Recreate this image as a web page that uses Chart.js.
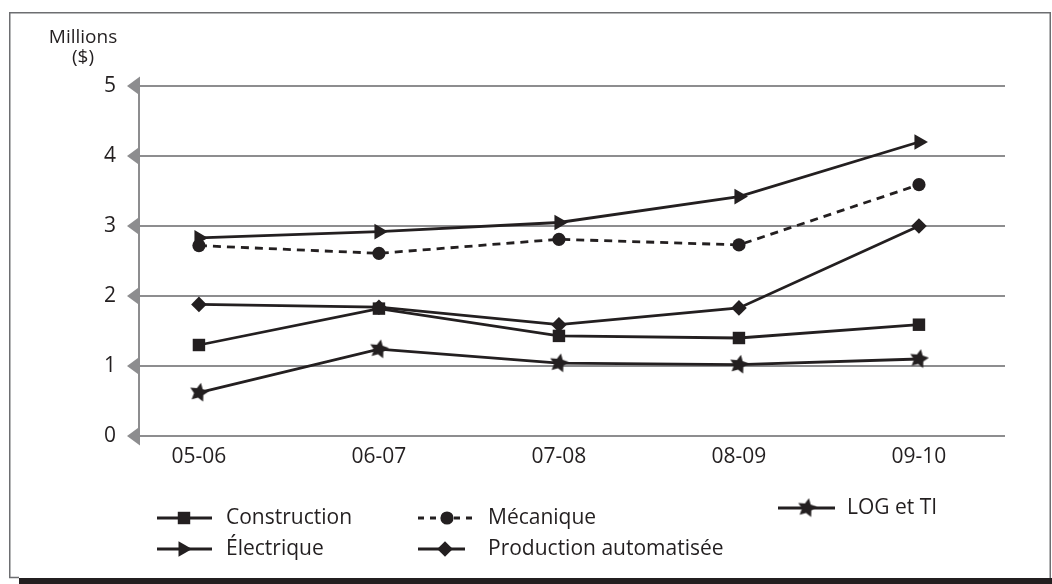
<!DOCTYPE html>
<html lang="fr">
<head>
<meta charset="utf-8">
<title>Millions ($) par secteur</title>
<script src="https://cdn.jsdelivr.net/npm/chart.js@4/dist/chart.umd.min.js"></script>
<style>
  html, body { margin: 0; padding: 0; background: #fff; }
  #wrap { position: relative; width: 1052px; height: 584px; }
</style>
</head>
<body>
<div id="wrap"><canvas id="c" width="1052" height="584"></canvas></div>
<script>
// Years (fiscal periods) on the horizontal axis
const categories = ['05-06', '06-07', '07-08', '08-09', '09-10'];

// Amounts in millions of dollars per sector
const construction = [1.30, 1.82, 1.43, 1.40, 1.59];
const mecanique    = [2.72, 2.61, 2.81, 2.73, 3.59];
const electrique   = [2.83, 2.92, 3.05, 3.42, 4.20];
const production   = [1.88, 1.84, 1.59, 1.83, 3.00];
const logTi        = [0.62, 1.24, 1.04, 1.02, 1.10];

// Vertical axis ticks
const yTicks = [0, 1, 2, 3, 4, 5];

const INK = '#231f20';
const GRID = '#8d8d8f';
const FONT = "'Open Sans', 'Noto Sans', sans-serif";
const FONT_SIZE = 21;

// Filled five-point star used as a point marker
function makeStar(size) {
  const cv = document.createElement('canvas');
  cv.width = size; cv.height = size;
  const g = cv.getContext('2d');
  const cx = size / 2, cy = size / 2, ro = size / 2 - 0.5, ri = ro * 0.5;
  g.beginPath();
  for (let i = 0; i < 10; i++) {
    const r = i % 2 === 0 ? ro : ri;
    const a = -Math.PI / 2 + 0.2 + i * Math.PI / 5;
    const px = cx + r * Math.cos(a), py = cy + r * Math.sin(a);
    if (i === 0) g.moveTo(px, py); else g.lineTo(px, py);
  }
  g.closePath();
  g.fillStyle = INK;
  g.fill();
  return cv;
}
const starImg = makeStar(21);

const toPoints = arr => arr.map((v, i) => ({ x: i, y: v }));

const series = [
  { label: 'Construction', values: construction, pointStyle: 'rect', radius: 8.8, rotation: 0, dash: [] },
  { label: 'Mécanique', values: mecanique, pointStyle: 'circle', radius: 6.6, rotation: 0, dash: [8, 6] },
  { label: 'Électrique', values: electrique, pointStyle: 'triangle', radius: 9, rotation: 90, dash: [] },
  { label: 'Production automatisée', values: production, pointStyle: 'rectRot', radius: 7.8, rotation: 0, dash: [] },
  { label: 'LOG et TI', values: logTi, pointStyle: starImg, radius: 10, rotation: 0, dash: [] }
];

const datasets = series.map(s => ({
  label: s.label,
  data: toPoints(s.values),
  borderColor: INK,
  backgroundColor: INK,
  borderWidth: 2.8,
  borderDash: s.dash,
  pointStyle: s.pointStyle,
  pointRadius: s.radius,
  pointRotation: s.rotation,
  pointBackgroundColor: INK,
  pointBorderColor: INK,
  pointBorderWidth: 0,
  tension: 0
}));

// Legend layout: [dataset index, line start, line end, marker x, text x, y]
const legendLayout = [
  [0, 157, 212, 184, 226, 518],
  [2, 157, 212, 183, 226, 549],
  [1, 418, 475, 447, 488, 518],
  [3, 418, 465, 445, 488, 549],
  [4, 778, 835, 807, 847, 508]
];

function drawMarker(ctx, s, x, y) {
  if (s.pointStyle instanceof HTMLCanvasElement) {
    ctx.drawImage(s.pointStyle, x - s.pointStyle.width / 2, y - s.pointStyle.height / 2);
    return;
  }
  ctx.save();
  ctx.fillStyle = INK;
  ctx.strokeStyle = INK;
  ctx.lineWidth = 0;
  if (Chart.helpers && Chart.helpers.drawPoint) {
    Chart.helpers.drawPoint(ctx, { pointStyle: s.pointStyle, rotation: s.rotation, radius: s.radius, borderWidth: 0 }, x, y);
  }
  ctx.restore();
}

const framePlugin = {
  id: 'frame',
  beforeDraw(chart) {
    const ctx = chart.ctx;
    ctx.save();
    ctx.fillStyle = '#fff';
    ctx.fillRect(0, 0, chart.width, chart.height);
    ctx.strokeStyle = '#6d6e71';
    ctx.lineWidth = 1.5;
    ctx.beginPath();
    ctx.moveTo(19, 577.5);
    ctx.lineTo(9.75, 577.5);
    ctx.lineTo(9.75, 12.75);
    ctx.lineTo(1050.25, 12.75);
    ctx.lineTo(1050.25, 578);
    ctx.stroke();
    ctx.fillStyle = INK;
    ctx.fillRect(19, 578, chart.width - 19, chart.height - 578);
    ctx.restore();
  },
  afterDraw(chart) {
    const ctx = chart.ctx;
    const y = chart.scales.y;
    const left = chart.chartArea.left;
    ctx.save();
    // arrow-head tick marks on the vertical axis
    ctx.fillStyle = GRID;
    y.ticks.forEach(t => {
      const py = y.getPixelForValue(t.value);
      ctx.beginPath();
      ctx.moveTo(left - 12, py);
      ctx.lineTo(left + 1, py - 9.5);
      ctx.lineTo(left + 1, py + 9.5);
      ctx.closePath();
      ctx.fill();
    });
    // unit caption
    ctx.fillStyle = INK;
    ctx.font = `19px ${FONT}`;
    ctx.textAlign = 'center';
    ctx.textBaseline = 'middle';
    ctx.fillText('Millions', 83, 38);
    ctx.fillText('($)', 83, 58);
    // legend
    ctx.font = `${FONT_SIZE}px ${FONT}`;
    ctx.textAlign = 'left';
    legendLayout.forEach(([idx, x1, x2, mx, tx, ly]) => {
      const s = series[idx];
      ctx.strokeStyle = INK;
      ctx.lineWidth = 3;
      ctx.setLineDash(s.dash.length ? [6, 6] : []);
      ctx.beginPath();
      ctx.moveTo(x1, ly);
      ctx.lineTo(x2, ly);
      ctx.stroke();
      ctx.setLineDash([]);
      drawMarker(ctx, s, mx, ly);
      ctx.fillStyle = INK;
      ctx.fillText(s.label, tx, ly);
    });
    ctx.restore();
  }
};

new Chart(document.getElementById('c'), {
  type: 'line',
  data: { datasets },
  plugins: [framePlugin],
  options: {
    responsive: false,
    animation: false,
    layout: { padding: { left: 0, top: 86, right: 47, bottom: 0 } },
    plugins: { legend: { display: false }, tooltip: { enabled: false } },
    scales: {
      x: {
        type: 'linear',
        min: -0.333,
        max: 4.478,
        afterBuildTicks: sc => { sc.ticks = categories.map((_, i) => ({ value: i })); },
        afterFit: sc => { sc.height = 148; },
        grid: { display: false, drawTicks: false },
        border: { display: false },
        ticks: {
          padding: 8,
          color: INK,
          font: { family: FONT, size: FONT_SIZE },
          autoSkip: false,
          maxRotation: 0,
          callback: v => categories[v]
        }
      },
      y: {
        min: 0,
        max: 5,
        afterBuildTicks: sc => { sc.ticks = yTicks.map(v => ({ value: v })); },
        afterFit: sc => { sc.width = 139; },
        grid: { color: GRID, lineWidth: 2, drawTicks: false },
        border: { display: true, color: GRID, width: 2 },
        ticks: {
          padding: 23,
          color: INK,
          font: { family: FONT, size: FONT_SIZE },
          callback: v => String(v)
        }
      }
    }
  }
});
</script>
</body>
</html>
